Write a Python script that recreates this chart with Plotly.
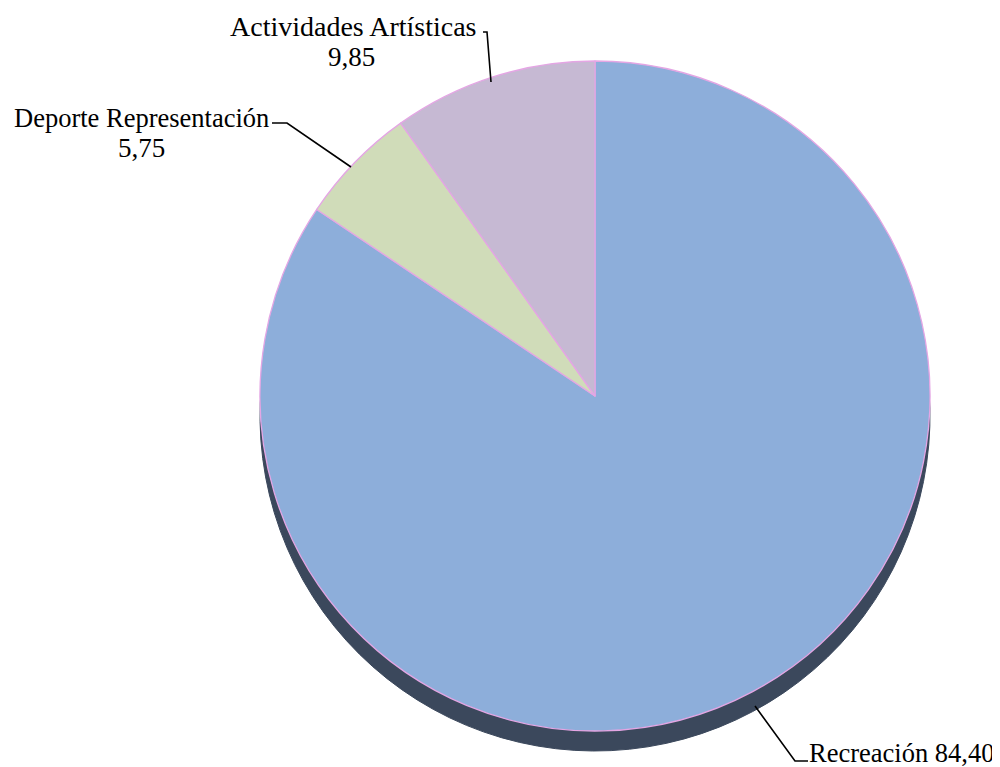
import plotly.graph_objects as go

# ---- data ----
categories = ["Recreación", "Deporte Representación", "Actividades Artísticas"]
values = [84.40, 5.75, 9.85]
colors = ["#8DAEDA", "#D0DCB9", "#C6B9D3"]

W, H = 1000, 767
OFF = 8  # default page body margin of the html page
FONT = "Liberation Serif, Times New Roman, serif"


def fmt(v):
    return f"{v:.2f}".replace(".", ",")


def px(x, y):
    # target screen pixel -> paper coordinates of the figure
    return (x - OFF) / W, 1 - (y - OFF) / H


# pie geometry (screen pixels)
cx, cy, r, shadow = 595, 396, 335, 20

fx, fy = cx - OFF, cy - OFF
dom_x = [(fx - r) / W, (fx + r) / W]
dom_y = [(H - fy - r) / H, (H - fy + r) / H]
dom_y_sh = [(H - fy - r - shadow) / H, (H - fy + r - shadow) / H]

fig = go.Figure()
# shadow / 3D edge
fig.add_trace(go.Pie(
    labels=categories, values=values, sort=False, direction="clockwise",
    rotation=0, textinfo="none", hoverinfo="skip",
    marker=dict(colors=["#3B485C"] * len(values), line=dict(color="#3B485C", width=1)),
    domain=dict(x=dom_x, y=dom_y_sh), showlegend=False,
))
# main pie
fig.add_trace(go.Pie(
    labels=categories, values=values, sort=False, direction="clockwise",
    rotation=0, textinfo="none",
    marker=dict(colors=colors, line=dict(color="#E4A6E4", width=1.3)),
    domain=dict(x=dom_x, y=dom_y), showlegend=False,
))

annotations = []


def add_text(text, x, y, size, xanchor="center"):
    ax, ay = px(x, y)
    annotations.append(dict(text=text, x=ax, y=ay, xref="paper", yref="paper",
                            xanchor=xanchor, yanchor="middle", showarrow=False,
                            font=dict(family=FONT, size=size, color="black")))


# Actividades Artísticas
add_text(categories[2], 353, 26, 28)
add_text(fmt(values[2]), 351, 57, 27)
# Deporte Representación
add_text(categories[1], 141, 118, 26.5)
add_text(fmt(values[1]), 141, 148, 27)
# Recreación
add_text(f"{categories[0]} {fmt(values[0])}", 807, 753, 26.5, xanchor="left")

leaders = [
    [(483, 32), (487, 32), (491, 82)],
    [(272, 123), (287, 123), (351, 167)],
    [(808, 761), (795, 761), (755, 706)],
]
shapes = []
for pts in leaders:
    path = ""
    for i, (x, y) in enumerate(pts):
        ax, ay = px(x, y)
        path += ("M" if i == 0 else "L") + f"{ax},{ay} "
    shapes.append(dict(type="path", path=path.strip(), xref="paper", yref="paper",
                       line=dict(color="black", width=1.6)))

fig.update_layout(
    width=W, height=H, margin=dict(l=0, r=0, t=0, b=0),
    paper_bgcolor="white", plot_bgcolor="white",
    annotations=annotations, shapes=shapes, showlegend=False,
)

fig.write_html("out.html")
